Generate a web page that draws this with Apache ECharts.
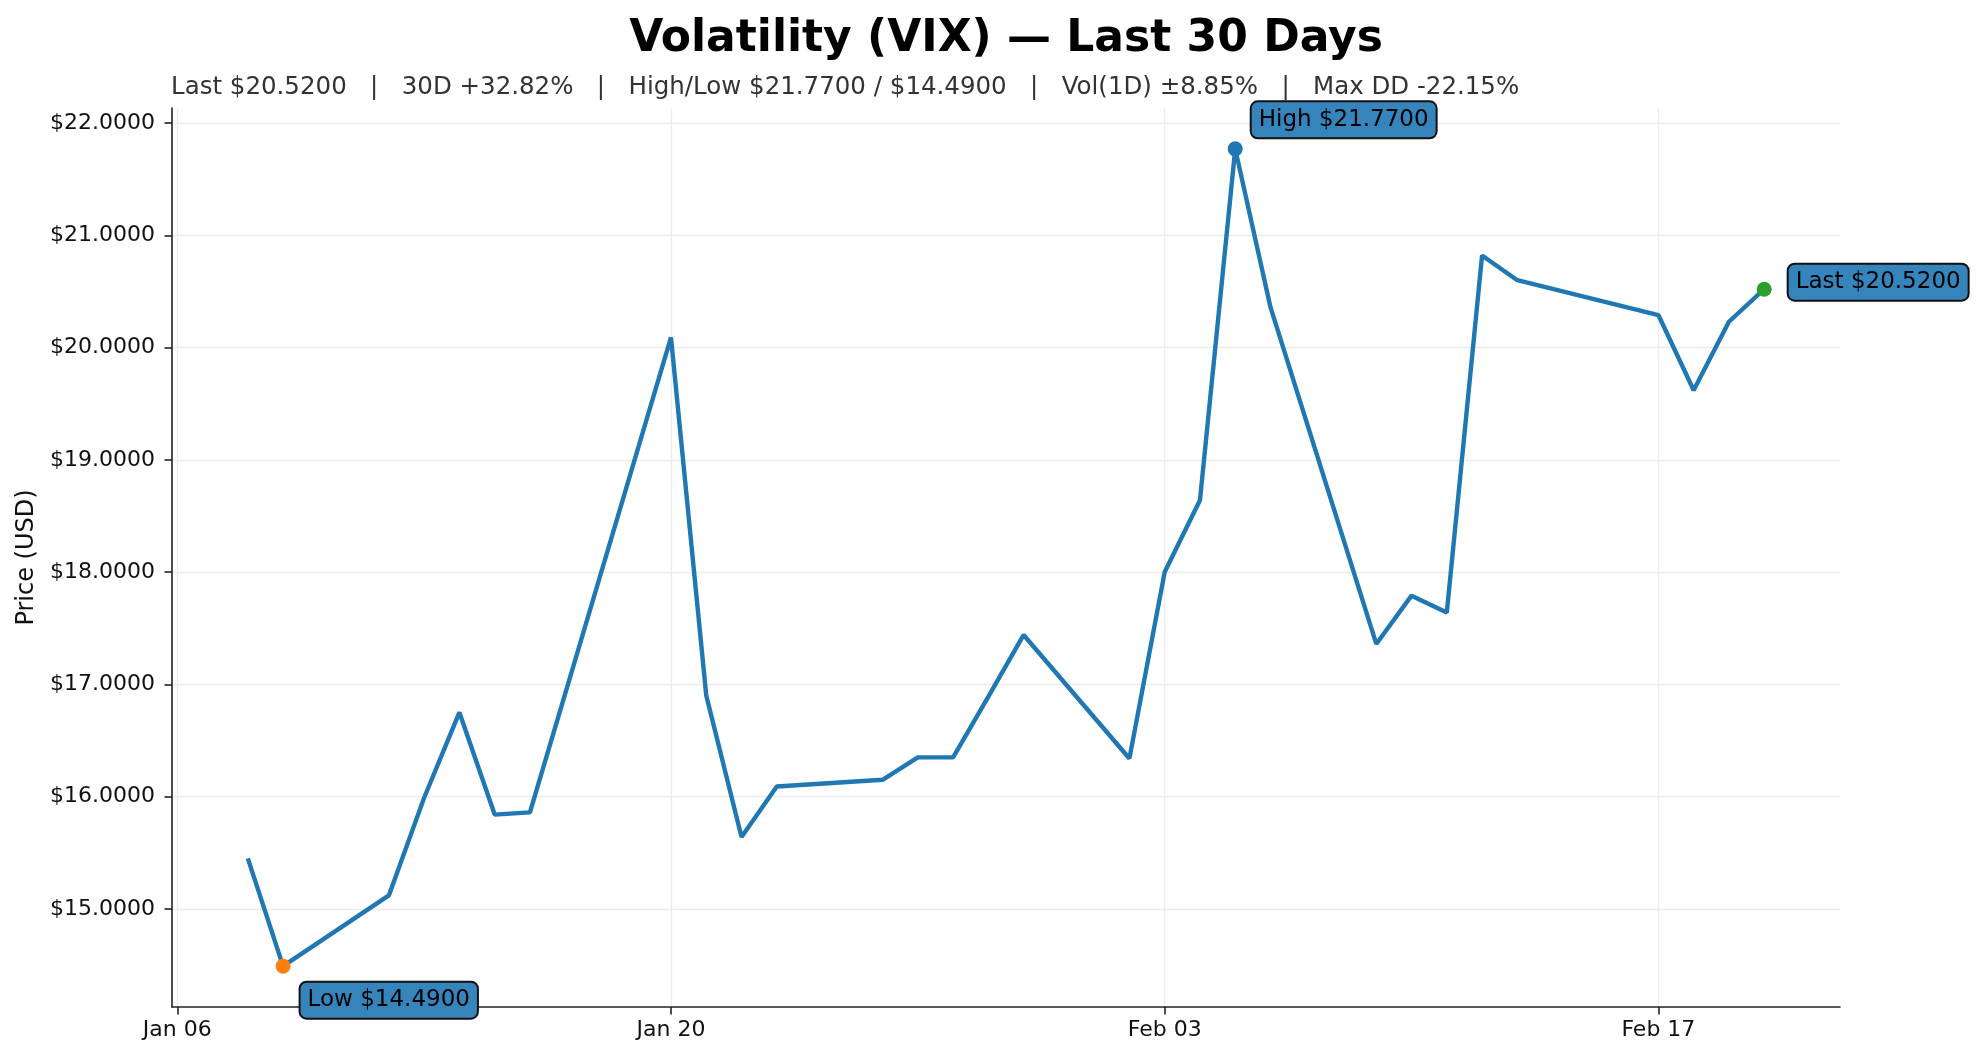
<!DOCTYPE html>
<html>
<head>
<meta charset="utf-8">
<title>Volatility (VIX) — Last 30 Days</title>
<script src="https://cdn.jsdelivr.net/npm/echarts@6/dist/echarts.min.js"></script>
<style>
  html, body { margin: 0; padding: 0; background: #ffffff; }
  #chart { width: 1978px; height: 1059px; }
</style>
</head>
<body>
<div id="chart"></div>
<script>
const chart = echarts.init(document.getElementById('chart'));

// 30 trading days
const dates = [
  '2026-01-08', '2026-01-09', '2026-01-12', '2026-01-13', '2026-01-14',
  '2026-01-15', '2026-01-16', '2026-01-20', '2026-01-21', '2026-01-22',
  '2026-01-23', '2026-01-26', '2026-01-27', '2026-01-28', '2026-01-29',
  '2026-01-30', '2026-02-02', '2026-02-03', '2026-02-04', '2026-02-05',
  '2026-02-06', '2026-02-09', '2026-02-10', '2026-02-11', '2026-02-12',
  '2026-02-13', '2026-02-17', '2026-02-18', '2026-02-19', '2026-02-20'
];

const prices = [
  15.45, 14.49, 15.12, 15.99, 16.75,
  15.84, 15.86, 20.09, 16.90, 15.64,
  16.09, 16.15, 16.35, 16.35, 16.89,
  17.44, 16.34, 18.00, 18.64, 21.77,
  20.36, 17.36, 17.79, 17.64, 20.82,
  20.60, 20.29, 19.62, 20.23, 20.52
];

const xTicks = ['2026-01-06', '2026-01-20', '2026-02-03', '2026-02-17'];
const yTicks = [15, 16, 17, 18, 19, 20, 21, 22];

const monthNames = ['Jan', 'Feb', 'Mar', 'Apr', 'May', 'Jun',
                    'Jul', 'Aug', 'Sep', 'Oct', 'Nov', 'Dec'];

const subtitle = 'Last $20.5200   |   30D +32.82%   |   High/Low $21.7700 / $14.4900   |   Vol(1D) ±8.85%   |   Max DD -22.15%';

function toTime(s) {
  const p = s.split('-');
  return new Date(+p[0], +p[1] - 1, +p[2]).getTime();
}

function fmtDate(v) {
  const d = new Date(v);
  const day = d.getDate();
  return monthNames[d.getMonth()] + ' ' + (day < 10 ? '0' + day : day);
}

const times = dates.map(toTime);
const lineData = times.map((t, i) => [t, prices[i]]);

// matplotlib style 5% margins
const tSpan = times[times.length - 1] - times[0];
const xMin = times[0] - tSpan * 0.05;
const xMax = times[times.length - 1] + tSpan * 0.05;
const pMin = Math.min(...prices);
const pMax = Math.max(...prices);
const ySpan = pMax - pMin;
const yMin = pMin - ySpan * 0.05;
const yMax = pMax + ySpan * 0.05;

const hiIdx = prices.indexOf(pMax);
const loIdx = prices.indexOf(pMin);
const lastIdx = prices.length - 1;

const font = 'DejaVu Sans';

const boxLabel = {
  show: true,
  align: 'left',
  verticalAlign: 'top',
  fontFamily: font,
  fontSize: 23,
  lineHeight: 27,
  color: '#000000',
  backgroundColor: '#3584bc',
  borderColor: '#111111',
  borderWidth: 2,
  borderRadius: 6,
  padding: [4, 7]
};

function marker(idx, color, text, pos) {
  return {
    value: [times[idx], prices[idx]],
    itemStyle: { color: color, opacity: 1 },
    label: Object.assign({}, boxLabel, {
      position: pos,
      formatter: text + ' $' + prices[idx].toFixed(4)
    })
  };
}

const option = {
  animation: false,
  backgroundColor: '#ffffff',
  grid: {
    left: 172,
    right: 138,
    top: 108,
    bottom: 52,
    containLabel: false
  },
  graphic: [
    {
      type: 'text',
      x: 1006,
      y: 40,
      style: {
        text: 'Volatility (VIX) — Last 30 Days',
        font: 'bold 44px "DejaVu Sans"',
        fill: '#000000',
        textAlign: 'center',
        textVerticalAlign: 'middle'
      }
    },
    {
      type: 'text',
      x: 171,
      y: 88,
      style: {
        text: subtitle,
        font: '24.5px "DejaVu Sans"',
        fill: '#333333',
        textAlign: 'left',
        textVerticalAlign: 'middle'
      }
    }
  ],
  xAxis: {
    type: 'value',
    min: xMin,
    max: xMax,
    axisLine: { show: true, onZero: false, lineStyle: { color: '#222222', width: 1.6 } },
    axisTick: {
      show: true,
      length: 7.5,
      lineStyle: { color: '#222222', width: 1.6 },
      customValues: xTicks.map(toTime)
    },
    axisLabel: {
      fontFamily: font,
      fontSize: 22,
      color: '#111111',
      margin: 12,
      customValues: xTicks.map(toTime),
      formatter: function (v) { return fmtDate(v); }
    },
    splitLine: { show: true, lineStyle: { color: '#ececec', width: 1.3 } }
  },
  yAxis: {
    type: 'value',
    min: yMin,
    max: yMax,
    name: 'Price (USD)',
    nameLocation: 'middle',
    nameGap: 133,
    nameRotate: 90,
    nameTextStyle: { fontFamily: font, fontSize: 24, color: '#111111' },
    axisLine: { show: true, onZero: false, lineStyle: { color: '#222222', width: 1.6 } },
    axisTick: {
      show: true,
      length: 7.5,
      lineStyle: { color: '#222222', width: 1.6 },
      customValues: yTicks
    },
    axisLabel: {
      fontFamily: font,
      fontSize: 22,
      color: '#111111',
      margin: 17,
      customValues: yTicks,
      formatter: function (v) { return '$' + v.toFixed(4); }
    },
    splitLine: { show: true, lineStyle: { color: '#ececec', width: 1.3 } }
  },
  series: [
    {
      type: 'line',
      data: lineData,
      showSymbol: false,
      lineStyle: { color: '#1f77b4', width: 4.4 },
      z: 2
    },
    {
      type: 'scatter',
      symbolSize: 15,
      z: 5,
      emphasis: { disabled: true },
      data: [
        marker(hiIdx, '#1f77b4', 'High', [24, -39]),
        marker(loIdx, '#ff7f0e', 'Low', [25, 24]),
        marker(lastIdx, '#2ca02c', 'Last', [32, -17])
      ]
    }
  ]
};

chart.setOption(option);
</script>
</body>
</html>
